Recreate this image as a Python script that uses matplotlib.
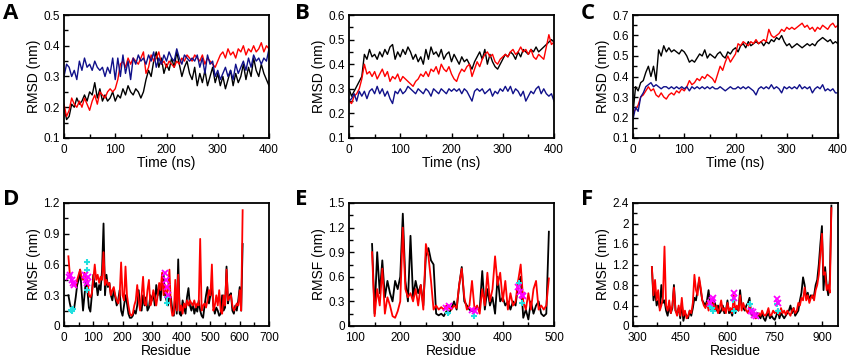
import numpy as np
import matplotlib
matplotlib.use("Agg")
import matplotlib.pyplot as plt
from matplotlib.ticker import MultipleLocator
from matplotlib.transforms import ScaledTranslation

plt.rcParams['font.family'] = ['Liberation Sans', 'DejaVu Sans']

# ---------------- RMSD data (time every 5 ns) ----------------
time_ns = list(range(0, 401, 5))

rmsd_A_black = [0.20,0.16,0.17,0.21,0.20,0.23,0.21,0.22,0.24,0.22,0.25,0.24,0.28,0.23,0.26,0.22,0.24,0.22,0.23,0.25,
                0.22,0.24,0.23,0.26,0.24,0.27,0.25,0.24,0.26,0.25,0.23,0.25,0.29,0.32,0.30,0.35,0.38,0.33,0.36,0.31,
                0.34,0.32,0.36,0.33,0.38,0.34,0.30,0.33,0.35,0.31,0.29,0.33,0.27,0.31,0.28,0.32,0.27,0.30,0.33,0.28,
                0.31,0.27,0.30,0.26,0.29,0.32,0.27,0.31,0.28,0.30,0.34,0.29,0.33,0.30,0.36,0.32,0.30,0.34,0.31,0.29,0.27]
rmsd_A_red = [0.21,0.17,0.19,0.23,0.21,0.20,0.22,0.20,0.23,0.21,0.19,0.22,0.24,0.21,0.25,0.24,0.23,0.25,0.26,0.25,
              0.26,0.29,0.34,0.35,0.33,0.36,0.34,0.36,0.35,0.34,0.36,0.38,0.31,0.33,0.37,0.35,0.36,0.38,0.34,0.35,
              0.33,0.35,0.34,0.33,0.35,0.34,0.36,0.35,0.37,0.36,0.35,0.37,0.36,0.35,0.37,0.34,0.36,0.35,0.34,0.33,
              0.35,0.37,0.38,0.36,0.39,0.37,0.38,0.36,0.39,0.38,0.40,0.37,0.39,0.38,0.40,0.38,0.39,0.41,0.38,0.40,0.39]
rmsd_A_blue = [0.30,0.34,0.33,0.30,0.32,0.29,0.35,0.32,0.36,0.33,0.34,0.32,0.35,0.33,0.32,0.33,0.30,0.33,0.31,0.36,
               0.29,0.36,0.30,0.37,0.31,0.35,0.29,0.36,0.34,0.37,0.35,0.36,0.34,0.37,0.35,0.38,0.33,0.36,0.34,0.37,
               0.35,0.38,0.36,0.35,0.39,0.36,0.34,0.37,0.36,0.35,0.36,0.35,0.37,0.33,0.36,0.31,0.37,0.34,0.35,0.30,
               0.32,0.29,0.31,0.33,0.30,0.32,0.29,0.34,0.31,0.33,0.35,0.32,0.36,0.33,0.37,0.35,0.36,0.34,0.36,0.35,0.39]

rmsd_B_black = [0.30,0.27,0.29,0.31,0.33,0.35,0.44,0.42,0.46,0.43,0.44,0.42,0.45,0.43,0.46,0.44,0.47,0.48,0.42,0.45,
                0.43,0.46,0.44,0.47,0.45,0.42,0.44,0.41,0.43,0.40,0.46,0.42,0.47,0.44,0.45,0.43,0.46,0.42,0.44,0.45,
                0.41,0.44,0.42,0.40,0.43,0.41,0.42,0.40,0.38,0.41,0.43,0.45,0.42,0.46,0.40,0.44,0.41,0.39,0.38,0.40,
                0.42,0.44,0.43,0.45,0.44,0.42,0.45,0.43,0.46,0.45,0.44,0.46,0.45,0.47,0.45,0.46,0.47,0.48,0.49,0.50,0.49]
rmsd_B_red = [0.25,0.24,0.27,0.28,0.30,0.34,0.40,0.36,0.37,0.35,0.37,0.34,0.36,0.38,0.35,0.37,0.33,0.35,0.34,0.36,
              0.33,0.35,0.34,0.33,0.32,0.31,0.33,0.34,0.36,0.35,0.37,0.35,0.38,0.37,0.39,0.36,0.40,0.38,0.37,0.39,
              0.36,0.34,0.33,0.36,0.38,0.37,0.39,0.40,0.35,0.38,0.41,0.39,0.42,0.44,0.45,0.43,0.44,0.41,0.40,0.42,
              0.43,0.44,0.43,0.45,0.46,0.44,0.45,0.47,0.45,0.46,0.44,0.46,0.43,0.42,0.44,0.43,0.42,0.47,0.52,0.48,0.49]
rmsd_B_blue = [0.25,0.26,0.28,0.25,0.29,0.27,0.29,0.26,0.29,0.30,0.28,0.31,0.28,0.30,0.27,0.29,0.26,0.24,0.29,0.28,
               0.30,0.28,0.29,0.31,0.30,0.29,0.28,0.30,0.29,0.28,0.30,0.29,0.27,0.30,0.29,0.28,0.30,0.29,0.28,0.30,
               0.29,0.30,0.29,0.30,0.28,0.30,0.29,0.27,0.25,0.29,0.30,0.29,0.30,0.28,0.29,0.30,0.27,0.29,0.28,0.30,
               0.29,0.31,0.29,0.31,0.28,0.30,0.29,0.27,0.29,0.25,0.27,0.29,0.28,0.30,0.31,0.28,0.30,0.28,0.27,0.28,0.25]

rmsd_C_black = [0.22,0.35,0.33,0.37,0.38,0.42,0.45,0.40,0.45,0.38,0.53,0.50,0.55,0.52,0.54,0.52,0.53,0.52,0.51,0.53,
                0.52,0.50,0.47,0.48,0.47,0.49,0.51,0.50,0.53,0.49,0.51,0.50,0.49,0.51,0.52,0.50,0.49,0.52,0.51,0.53,
                0.54,0.52,0.55,0.56,0.54,0.57,0.55,0.56,0.57,0.56,0.57,0.55,0.57,0.56,0.58,0.57,0.59,0.58,0.60,0.57,
                0.55,0.56,0.54,0.55,0.56,0.55,0.54,0.55,0.56,0.55,0.56,0.55,0.57,0.58,0.59,0.58,0.57,0.58,0.56,0.57,0.56]
rmsd_C_red = [0.22,0.24,0.26,0.30,0.31,0.33,0.35,0.33,0.34,0.31,0.30,0.32,0.30,0.29,0.31,0.32,0.31,0.33,0.32,0.34,
              0.33,0.35,0.38,0.36,0.37,0.39,0.38,0.40,0.39,0.41,0.40,0.39,0.37,0.41,0.45,0.43,0.47,0.50,0.47,0.49,
              0.51,0.56,0.55,0.57,0.56,0.55,0.57,0.56,0.58,0.56,0.57,0.58,0.57,0.63,0.60,0.59,0.60,0.61,0.63,0.62,
              0.64,0.63,0.64,0.63,0.64,0.65,0.66,0.64,0.65,0.63,0.64,0.62,0.64,0.63,0.65,0.64,0.63,0.65,0.66,0.64,0.65]
rmsd_C_blue = [0.19,0.25,0.23,0.30,0.32,0.35,0.36,0.37,0.35,0.36,0.35,0.34,0.35,0.35,0.34,0.35,0.34,0.35,0.34,0.35,
               0.34,0.35,0.33,0.35,0.34,0.35,0.34,0.35,0.34,0.35,0.34,0.35,0.34,0.34,0.35,0.34,0.33,0.34,0.35,0.34,
               0.34,0.35,0.34,0.35,0.34,0.35,0.34,0.33,0.31,0.34,0.35,0.34,0.35,0.34,0.36,0.34,0.35,0.34,0.32,0.35,
               0.34,0.35,0.34,0.35,0.34,0.36,0.34,0.35,0.34,0.35,0.32,0.34,0.35,0.34,0.36,0.33,0.34,0.33,0.34,0.32,0.32]

# ---------------- RMSF data ----------------
res_D = list(range(15, 611, 5))
rmsf_D_black = [0.30,0.22,0.16,0.15,0.18,0.28,0.40,0.45,0.55,0.35,0.15,0.30,0.45,0.35,0.18,0.14,0.30,0.50,0.38,0.42,
                0.30,0.40,0.35,0.55,1.00,0.30,0.50,0.38,0.42,0.30,0.25,0.35,0.28,0.20,0.25,0.35,0.15,0.10,0.20,0.30,
                0.22,0.12,0.08,0.08,0.10,0.15,0.12,0.20,0.35,0.18,0.15,0.30,0.20,0.28,0.15,0.18,0.30,0.25,0.32,0.20,
                0.40,0.30,0.38,0.25,0.45,0.50,0.30,0.25,0.20,0.30,0.28,0.15,0.10,0.30,0.12,0.65,0.12,0.10,0.25,0.18,
                0.12,0.28,0.37,0.20,0.15,0.22,0.12,0.18,0.14,0.25,0.15,0.10,0.08,0.20,0.30,0.38,0.22,0.30,0.38,0.20,
                0.12,0.18,0.15,0.10,0.12,0.30,0.15,0.18,0.58,0.22,0.30,0.32,0.15,0.12,0.20,0.15,0.25,0.38,0.15,0.80]
rmsf_D_red = [0.68,0.50,0.45,0.40,0.42,0.38,0.45,0.50,0.55,0.48,0.45,0.52,0.48,0.45,0.30,0.28,0.32,0.45,0.60,0.45,
              0.50,0.42,0.48,0.45,0.72,0.40,0.45,0.40,0.42,0.30,0.35,0.38,0.30,0.25,0.22,0.30,0.62,0.30,0.25,0.58,
              0.30,0.20,0.12,0.10,0.12,0.20,0.25,0.40,0.25,0.15,0.30,0.48,0.22,0.20,0.35,0.45,0.20,0.25,0.35,0.28,
              0.20,0.30,0.42,0.35,0.52,0.30,0.40,0.30,0.35,0.55,0.20,0.10,0.12,0.45,0.15,0.50,0.15,0.20,0.12,0.22,
              0.18,0.25,0.20,0.25,0.22,0.20,0.25,0.18,0.22,0.20,0.85,0.15,0.20,0.22,0.18,0.25,0.35,0.30,0.60,0.15,
              0.20,0.30,0.20,0.35,0.15,0.12,0.30,0.20,0.55,0.25,0.28,0.30,0.20,0.15,0.18,0.22,0.20,0.35,0.15,1.13]
mark_D_mag_x = [18, 22, 26, 30, 34, 70, 74, 78, 82, 345, 348, 352, 355]
mark_D_mag_y = [0.48, 0.50, 0.45, 0.42, 0.40, 0.50, 0.45, 0.42, 0.48, 0.52, 0.45, 0.38, 0.30]
mark_D_cyan_x = [25, 28, 32, 78, 78, 80, 350, 352]
mark_D_cyan_y = [0.16, 0.15, 0.17, 0.62, 0.55, 0.35, 0.28, 0.22]

res_E = list(range(145, 491, 5))
rmsf_E_black = [1.00,0.15,0.90,0.40,0.80,0.35,0.55,0.40,0.30,0.55,0.45,0.60,1.37,0.55,0.30,1.10,0.35,0.55,0.40,0.50,
                0.25,0.85,0.95,0.80,0.75,0.15,0.13,0.15,0.12,0.18,0.15,0.22,0.30,0.20,0.50,0.72,0.30,0.25,0.20,0.18,
                0.20,0.22,0.20,0.67,0.20,0.45,0.25,0.35,0.15,0.60,0.30,0.35,0.25,0.30,0.20,0.30,0.25,0.50,0.60,0.10,
                0.20,0.08,0.30,0.15,0.25,0.30,0.15,0.12,0.15,1.15]
rmsf_E_red = [0.90,0.12,0.45,0.25,0.70,0.15,0.35,0.25,0.12,0.10,0.18,0.30,1.20,0.45,0.35,0.40,0.30,0.45,0.25,0.50,
              0.20,1.00,0.85,0.55,0.20,0.25,0.20,0.23,0.20,0.25,0.22,0.20,0.25,0.22,0.50,0.70,0.35,0.20,0.25,0.55,
              0.20,0.25,0.15,0.45,0.25,0.65,0.30,0.45,0.85,0.50,0.65,0.30,0.55,0.20,0.40,0.25,0.30,0.55,0.75,0.30,
              0.20,0.40,0.20,0.45,0.55,0.20,0.25,0.20,0.25,0.58]
mark_E_mag_x = [290, 295, 340, 345, 430, 433, 437, 440]
mark_E_mag_y = [0.22, 0.25, 0.20, 0.18, 0.48, 0.42, 0.38, 0.36]
mark_E_cyan_x = [293, 343, 432, 438]
mark_E_cyan_y = [0.16, 0.12, 0.53, 0.28]

res_F = list(range(360, 931, 5))
rmsf_F_black = [1.15,0.50,0.70,0.40,0.50,0.35,0.80,0.45,0.50,0.30,0.20,0.40,0.25,0.35,0.80,0.30,0.25,0.35,0.15,0.45,
                0.10,0.25,0.20,0.15,0.30,0.20,0.35,0.55,0.50,0.70,0.90,0.70,0.50,0.45,0.40,0.50,0.70,0.40,0.30,0.50,
                0.45,0.30,0.40,0.25,0.30,0.40,0.25,0.30,0.50,0.25,0.30,0.20,0.35,0.25,0.35,0.30,0.70,0.40,0.35,0.30,
                0.40,0.45,0.55,0.25,0.20,0.25,0.15,0.25,0.20,0.15,0.25,0.15,0.10,0.20,0.25,0.15,0.20,0.15,0.12,0.20,
                0.30,0.15,0.25,0.20,0.15,0.20,0.25,0.30,0.40,0.25,0.35,0.20,0.25,0.30,0.50,0.65,0.95,0.80,0.55,0.65,
                0.50,0.60,0.55,0.60,0.80,0.90,1.20,1.60,1.95,0.70,1.15,0.80,0.60,0.90,2.35]
rmsf_F_red = [1.15,0.60,0.90,0.50,0.70,0.30,0.40,0.55,1.55,0.40,0.30,0.50,0.25,0.40,0.75,0.30,0.20,0.40,0.20,0.55,
              0.20,0.30,0.15,0.20,0.30,0.25,0.45,1.00,0.70,0.60,0.95,0.75,0.50,0.40,0.35,0.45,0.30,0.50,0.35,0.45,
              0.30,0.40,0.25,0.35,0.50,0.30,0.35,0.25,0.45,0.30,0.35,0.25,0.60,0.30,0.40,0.30,0.60,0.30,0.45,0.35,
              0.30,0.25,0.40,0.30,0.25,0.20,0.15,0.20,0.25,0.20,0.30,0.22,0.20,0.25,0.35,0.20,0.22,0.30,0.25,0.30,
              0.25,0.22,0.35,0.25,0.30,0.22,0.30,0.25,0.20,0.30,0.35,0.25,0.30,0.45,0.40,0.55,0.50,0.75,0.50,0.60,
              0.45,0.55,0.60,0.50,0.70,0.80,1.00,1.40,1.80,1.00,1.05,0.70,0.80,0.65,2.30]
mark_F_mag_x = [545, 550, 555, 620, 622, 675, 680, 685, 690, 758, 760]
mark_F_mag_y = [0.45, 0.50, 0.55, 0.65, 0.55, 0.30, 0.28, 0.22, 0.20, 0.52, 0.45]
mark_F_cyan_x = [543, 550, 553, 618, 620, 672, 678, 758, 760]
mark_F_cyan_y = [0.40, 0.35, 0.30, 0.50, 0.30, 0.42, 0.30, 0.42, 0.30]

# tick labels
ticks_D_x = [0, 100, 200, 300, 400, 500, 600, 700]
ticks_E_x = [100, 200, 300, 400, 500]
ticks_F_x = [300, 450, 600, 750, 900]
ticks_D_y = [0, 0.3, 0.6, 0.9, 1.2]
ticks_E_y = [0, 0.3, 0.6, 0.9, 1.2, 1.5]
ticks_F_y = [0, 0.4, 0.8, 1.2, 1.6, 2.0, 2.4]

# ---------------- figure ----------------
W, H = 850, 359
fig = plt.figure(figsize=(W / 100, H / 100), dpi=100)

BLACK, RED, BLUE = '#000000', '#ff0000', '#10108a'
MAG, CYAN = '#ff00ff', '#22e0e0'

def make_ax(left, top, right, bottom):
    ax = fig.add_axes([left / W, 1 - bottom / H, (right - left) / W, (bottom - top) / H])
    for s in ax.spines.values():
        s.set_linewidth(1.3)
    ax.tick_params(which='both', direction='in', top=False, right=False,
                   labelsize=8.5, width=1.0)
    ax.tick_params(axis='x', which='both', pad=4)
    ax.tick_params(axis='y', which='both', pad=3)
    ax.tick_params(which='major', length=3.5)
    ax.tick_params(which='minor', length=3.0)
    return ax

def fmt(v):
    return ('%g' % v)

cols = [(64, 269), (349, 554), (633, 838)]
row1 = (15, 138)
row2 = (203, 326)

rmsd_sets = [
    (rmsd_A_black, rmsd_A_red, rmsd_A_blue, (0.1, 0.5)),
    (rmsd_B_black, rmsd_B_red, rmsd_B_blue, (0.1, 0.6)),
    (rmsd_C_black, rmsd_C_red, rmsd_C_blue, (0.1, 0.7)),
]
letters_top = ['A', 'B', 'C']
letters_bot = ['D', 'E', 'F']
letter_x = [3, 295, 581]

for i, (bk, rd, bl, ylim) in enumerate(rmsd_sets):
    l, r = cols[i]
    ax = make_ax(l, row1[0], r, row1[1])
    ax.plot(time_ns, bk, color=BLACK, lw=1.0)
    ax.plot(time_ns, rd, color=RED, lw=1.0)
    ax.plot(time_ns, bl, color=BLUE, lw=1.0)
    ax.set_xlim(0, 400)
    ax.set_ylim(*ylim)
    ax.xaxis.set_major_locator(MultipleLocator(100))
    ax.xaxis.set_minor_locator(MultipleLocator(50))
    ax.yaxis.set_major_locator(MultipleLocator(0.1))
    ax.yaxis.set_minor_locator(MultipleLocator(0.05))
    ax.set_xlabel('Time (ns)', fontsize=10, labelpad=0)
    ax.set_ylabel('RMSD (nm)', fontsize=10, labelpad=2)
    fig.text(letter_x[i] / W, 1 - 3 / H, letters_top[i], fontsize=16, fontweight='bold',
             family='Open Sans', va='top', ha='left')

rmsf_sets = [
    (res_D, rmsf_D_black, rmsf_D_red, mark_D_mag_x, mark_D_mag_y, mark_D_cyan_x, mark_D_cyan_y,
     (0, 700), (0, 1.2), ticks_D_x, ticks_D_y, 50, 0.15, 0),
    (res_E, rmsf_E_black, rmsf_E_red, mark_E_mag_x, mark_E_mag_y, mark_E_cyan_x, mark_E_cyan_y,
     (100, 500), (0, 1.5), ticks_E_x, ticks_E_y, 50, 0.15, 6),
    (res_F, rmsf_F_black, rmsf_F_red, mark_F_mag_x, mark_F_mag_y, mark_F_cyan_x, mark_F_cyan_y,
     (300, 951), (0, 2.4), ticks_F_x, ticks_F_y, 75, 0.2, 4),
]

for i, (rx, bk, rd, mx, my, cx, cy, xlim, ylim, tx, ty, xmin, ymin, shift) in enumerate(rmsf_sets):
    l, r = cols[i]
    ax = make_ax(l, row2[0], r, row2[1])
    ax.plot(rx, bk, color=BLACK, lw=1.3)
    ax.plot(rx, rd, color=RED, lw=1.3)
    ax.plot(cx, cy, linestyle='none', marker='+', color=CYAN, ms=5, mew=1.5)
    ax.plot(mx, my, linestyle='none', marker='x', color=MAG, ms=4, mew=1.3)
    ax.set_xlim(*xlim)
    ax.set_ylim(*ylim)
    ax.set_xticks(tx)
    ax.set_xticklabels([fmt(v) for v in tx])
    ax.set_yticks(ty)
    ax.set_yticklabels([fmt(v) for v in ty])
    ax.xaxis.set_minor_locator(MultipleLocator(xmin))
    ax.yaxis.set_minor_locator(MultipleLocator(ymin))
    if shift:
        first = ax.xaxis.get_major_ticks()[0].label1
        first.set_transform(first.get_transform() +
                            ScaledTranslation(shift / 100, 0, fig.dpi_scale_trans))
    ax.set_xlabel('Residue', fontsize=10, labelpad=0)
    ax.set_ylabel('RMSF (nm)', fontsize=10, labelpad=2)
    fig.text(letter_x[i] / W, 1 - 189 / H, letters_bot[i], fontsize=16, fontweight='bold',
             family='Open Sans', va='top', ha='left')

fig.savefig('out.png', dpi=100)
